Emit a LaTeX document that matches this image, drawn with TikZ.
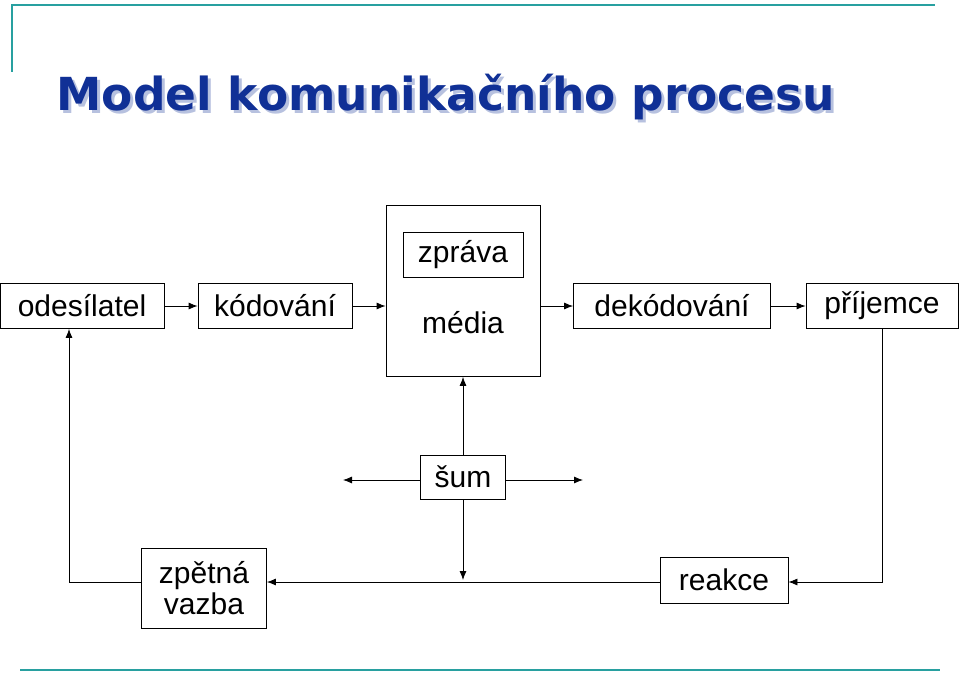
\documentclass[tikz,border=0pt]{standalone}
\usepackage{fontspec}
\setmainfont{Liberation Sans}
\newfontfamily\titlefont{DejaVu Sans}
\usetikzlibrary{arrows.meta}
\definecolor{titleblue}{RGB}{16,48,150}
\definecolor{rulecol}{RGB}{40,160,160}
\begin{document}
\begin{tikzpicture}[x=1pt,y=-1pt,
  box/.style={draw,thick,inner sep=0pt,font=\fontsize{30}{32}\selectfont},
  arr/.style={thick,-{Latex[length=9pt,width=7pt]}}]
\useasboundingbox (0,0) rectangle (960,674);

% frame lines
\draw[rulecol,line width=2.5pt] (12,72) -- (12,5) -- (935,5);
\draw[rulecol,line width=2.5pt] (20,670) -- (940,670);

% title
\node[anchor=west,text=titleblue!30,font=\titlefont\bfseries\fontsize{45.5}{50}\selectfont] at (56,100) {Model komunikačního procesu};
\node[anchor=west,text=titleblue,font=\titlefont\bfseries\fontsize{45.5}{50}\selectfont] at (53,97) {Model komunikačního procesu};

% boxes
\node[box,minimum width=164,minimum height=45] (send) at (82,306) {odesílatel};
\node[box,minimum width=154,minimum height=45] (enc) at (275,306) {kódování};
\node[box,minimum width=154,minimum height=171] (media) at (463,291) {};
\node[box,minimum width=120,minimum height=45] (msg) at (463,255) {zpráva};
\node[font=\fontsize{30}{32}\selectfont] (mtext) at (463,323) {média};
\node[box,minimum width=197,minimum height=45] (dec) at (672,306) {dekódování};
\node[box,minimum width=152,minimum height=45] (recv) at (882,306) {příjemce};
\node[box,minimum width=85,minimum height=44] (noise) at (463,477) {šum};
\node[box,minimum width=125,minimum height=80,align=center,font=\fontsize{30}{31}\selectfont] (fb) at (204,588) {zpětná\\vazba};
\node[box,minimum width=128,minimum height=46] (react) at (724,580) {reakce};

\coordinate (nl) at (343,480);
\coordinate (nr) at (583,480);
\coordinate (nd) at (463,580);
\coordinate (rc) at (882,582);
\coordinate (fc) at (69,582);

% connectors
\draw[arr] (send) -- (enc);
\draw[arr] (enc) -- (enc -| media.west);
\draw[arr] (dec -| media.east) -- (dec);
\draw[arr] (dec) -- (recv);
\draw[arr] (noise) -- (media);
\draw[arr] (noise.west |- nl) -- (nl);
\draw[arr] (noise.east |- nr) -- (nr);
\draw[arr] (noise) -- (nd);
\draw[arr] (recv.south -| rc) -- (rc) -- (react.east |- rc);
\draw[arr] (react.west |- rc) -- (fb.east |- rc);
\draw[arr] (fb.west |- fc) -- (fc) -- (send.south -| fc);
\end{tikzpicture}
\end{document}
